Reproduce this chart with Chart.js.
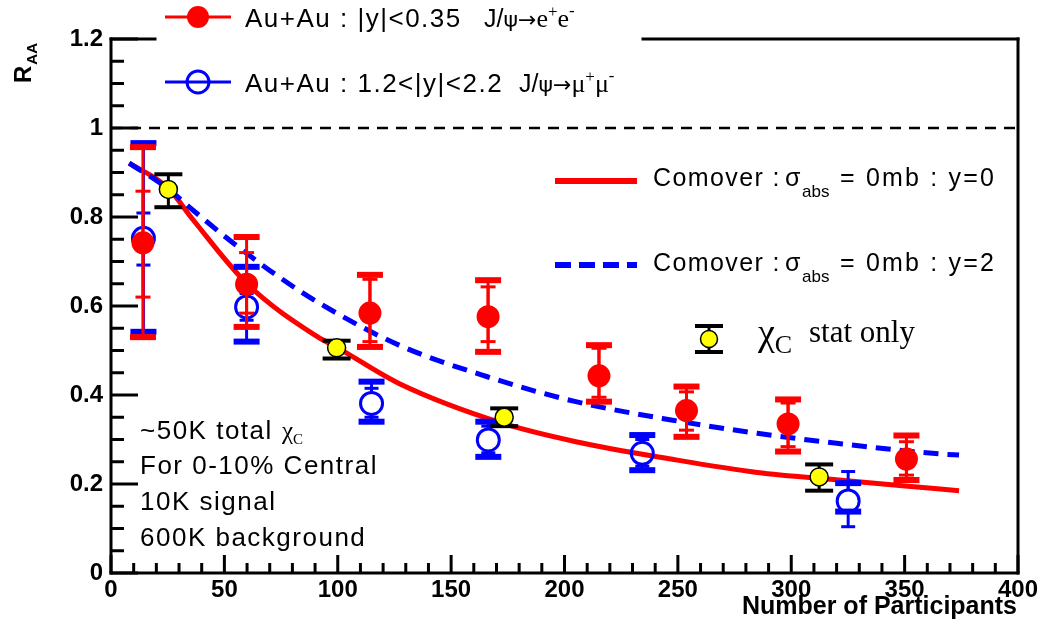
<!DOCTYPE html>
<html>
<head>
<meta charset="utf-8">
<script src="https://cdn.jsdelivr.net/npm/chart.js@4.4.1/dist/chart.umd.min.js"></script>
<style>
html, body { margin: 0; padding: 0; background: #fff; }
#wrap { width: 1042px; height: 632px; }
</style>
</head>
<body>
<div id="wrap"><canvas id="raaChart" width="1042" height="632"></canvas></div>
<script>
// J/psi -> e+e-, |y|<0.35
const npartMid = [14.1, 59.8, 114.2, 166.3, 215.2, 253.8, 298.6, 350.8]
const raaMid = [0.742, 0.649, 0.584, 0.576, 0.443, 0.365, 0.335, 0.256]
const statLoMid = [0.62, 0.584, 0.52, 0.52, 0.395, 0.321, 0.284, 0.22]
const statHiMid = [0.858, 0.72, 0.66, 0.643, 0.505, 0.407, 0.382, 0.295]
const sysLoMid = [0.53, 0.553, 0.508, 0.497, 0.385, 0.306, 0.273, 0.209]
const sysHiMid = [0.957, 0.755, 0.67, 0.658, 0.512, 0.419, 0.39, 0.309]

// J/psi -> mu+mu-, 1.2<|y|<2.2
const npartFwd = [14.3, 59.8, 114.9, 166.4, 234.3, 325.1]
const raaFwd = [0.752, 0.598, 0.381, 0.299, 0.269, 0.162]
const statLoFwd = [0.692, 0.568, 0.35, 0.27, 0.24, 0.104]
const statHiFwd = [0.809, 0.628, 0.415, 0.33, 0.30, 0.228]
const sysLoFwd = [0.542, 0.52, 0.34, 0.261, 0.231, 0.138]
const sysHiFwd = [0.966, 0.688, 0.43, 0.34, 0.31, 0.202]

// chi_C projection, stat only
const npartChi = [25.3, 99.5, 173.4, 312.3]
const raaChi = [0.862, 0.506, 0.35, 0.216]
const errLoChi = [0.822, 0.482, 0.33, 0.185]
const errHiChi = [0.896, 0.522, 0.37, 0.244]

// comover model, sigma_abs = 0 mb
const comoverNpartY0 = [8, 25, 36, 60, 91, 100, 127, 173, 205, 247, 285, 321, 349, 374]
const comoverRaaY0 = [0.921, 0.866, 0.795, 0.65, 0.531, 0.506, 0.426, 0.336, 0.295, 0.256, 0.226, 0.209, 0.196, 0.185]
const comoverNpartY2 = [8, 25, 36, 54, 75, 92, 127, 166, 205, 247, 285, 321, 367, 374]
const comoverRaaY2 = [0.921, 0.864, 0.816, 0.741, 0.662, 0.606, 0.512, 0.441, 0.385, 0.344, 0.314, 0.291, 0.267, 0.265]

const xTicks = [0, 50, 100, 150, 200, 250, 300, 350, 400]
const xTickLabels = ['0', '50', '100', '150', '200', '250', '300', '350', '400']
const yTicks = [0, 0.2, 0.4, 0.6, 0.8, 1, 1.2]
const yTickLabels = ['0', '0.2', '0.4', '0.6', '0.8', '1', '1.2']

const SANS = 'Liberation Sans, Arial, sans-serif'
const SERIF = 'Liberation Serif, Times New Roman, serif'
const SYM = 'DejaVu Sans, sans-serif'

const pts = (xs, ys) => xs.map((x, i) => ({ x: x, y: ys[i] }))

function line(ctx, x1, y1, x2, y2) {
    ctx.beginPath()
    ctx.moveTo(x1, y1)
    ctx.lineTo(x2, y2)
    ctx.stroke()
}

// vertical bar with caps, skipping the marker itself
function errBar(ctx, px, py, pLo, pHi, gap, color, lw, capW, capT) {
    ctx.strokeStyle = color
    ctx.fillStyle = color
    ctx.lineWidth = lw
    if (pHi < py - gap) line(ctx, px, py - gap, px, pHi)
    if (pLo > py + gap) line(ctx, px, py + gap, px, pLo)
    ctx.fillRect(px - capW / 2, pHi - capT / 2, capW, capT)
    ctx.fillRect(px - capW / 2, pLo - capT / 2, capW, capT)
}

function rich(ctx, x, y, parts) {
    let cx = x
    parts.forEach(p => {
        if (p.x !== undefined) cx = p.x
        ctx.font = p.f
        ctx.letterSpacing = p.ls || '0px'
        ctx.fillText(p.t, cx, y + (p.dy || 0))
        cx += ctx.measureText(p.t).width
    })
    ctx.letterSpacing = '0px'
}

const errorBars = {
    id: 'errorBars',
    beforeDatasetDraw(chart, args) {
        const ds = chart.data.datasets[args.index]
        if (!ds.bars) return
        const ctx = chart.ctx
        const xs = chart.scales.x, ys = chart.scales.y
        const b = ds.bars
        ctx.save()
        ds.data.forEach((p, i) => {
            const px = xs.getPixelForValue(p.x)
            const py = ys.getPixelForValue(p.y)
            if (b.sysLo) errBar(ctx, px, py, ys.getPixelForValue(b.sysLo[i]), ys.getPixelForValue(b.sysHi[i]), b.gap, b.color, 3, 26, 6)
            errBar(ctx, px, py, ys.getPixelForValue(b.lo[i]), ys.getPixelForValue(b.hi[i]), b.gap, b.color, 3, b.capW, b.capT)
        })
        ctx.restore()
    }
}

const frame = {
    id: 'frame',
    afterDraw(chart) {
        const ctx = chart.ctx
        const a = chart.chartArea
        const xs = chart.scales.x, ys = chart.scales.y
        ctx.save()
        ctx.strokeStyle = '#000'
        ctx.fillStyle = '#000'
        ctx.lineWidth = 3
        ctx.lineCap = 'square'

        // box, with the top edge interrupted by the upper legend
        line(ctx, a.left, a.top, a.left, a.bottom)
        line(ctx, a.left, a.bottom, a.right, a.bottom)
        line(ctx, a.right, a.top, a.right, a.bottom)
        line(ctx, a.left, a.top, 155, a.top)
        line(ctx, 643, a.top, a.right, a.top)
        ctx.lineCap = 'butt'

        // ticks pointing inwards
        for (let v = 0; v <= 400; v += 10) {
            const px = xs.getPixelForValue(v)
            line(ctx, px, a.bottom, px, a.bottom - (v % 50 === 0 ? 18 : 10))
        }
        for (let k = 0; k <= 24; k++) {
            const py = ys.getPixelForValue(k * 0.05)
            line(ctx, a.left, py, a.left + (k % 4 === 0 ? 27 : 13), py)
        }

        // reference line at R_AA = 1
        ctx.lineWidth = 2.5
        ctx.setLineDash([11, 8])
        line(ctx, a.left, ys.getPixelForValue(1), a.right, ys.getPixelForValue(1))
        ctx.setLineDash([])

        // tick labels
        ctx.font = 'bold 24px ' + SANS
        ctx.textAlign = 'center'
        ctx.textBaseline = 'alphabetic'
        xTicks.forEach((v, i) => ctx.fillText(xTickLabels[i], xs.getPixelForValue(v), 597))
        ctx.textAlign = 'right'
        ctx.textBaseline = 'middle'
        yTicks.forEach((v, i) => ctx.fillText(yTickLabels[i], 103, ys.getPixelForValue(v)))

        // axis titles
        ctx.textAlign = 'right'
        ctx.textBaseline = 'alphabetic'
        ctx.font = 'bold 25px ' + SANS
        ctx.fillText('Number of Participants', 1017, 614)
        ctx.save()
        ctx.translate(31, 83)
        ctx.rotate(-Math.PI / 2)
        ctx.textAlign = 'left'
        ctx.font = 'bold 24px ' + SANS
        ctx.fillText('R', 0, 0)
        const rw = ctx.measureText('R').width
        ctx.font = 'bold 15px ' + SANS
        ctx.fillText('AA', rw + 1, 6)
        ctx.restore()

        ctx.textAlign = 'left'
        ctx.textBaseline = 'alphabetic'

        // upper legend
        ctx.lineWidth = 3
        ctx.strokeStyle = '#ff0000'
        line(ctx, 165, 17, 231, 17)
        ctx.fillStyle = '#ff0000'
        ctx.beginPath(); ctx.arc(198, 17, 11, 0, Math.PI * 2); ctx.fill()
        ctx.strokeStyle = '#0000ff'
        line(ctx, 165, 82, 231, 82)
        ctx.beginPath(); ctx.arc(198, 82, 11, 0, Math.PI * 2); ctx.stroke()

        ctx.fillStyle = '#000'
        const big = '26px ' + SANS
        const mid = '26px ' + SERIF
        const sym = '22px ' + SYM
        const sup = '17px ' + SERIF
        rich(ctx, 245, 27, [
            { t: 'Au+Au : |y|<0.35', f: big, ls: '1.5px' },
            { t: 'J/', f: '25px ' + SANS, x: 484 },
            { t: 'ψ→', f: sym },
            { t: 'e', f: mid },
            { t: '+', f: sup, dy: -10 },
            { t: 'e', f: mid },
            { t: '-', f: sup, dy: -11 }
        ])
        rich(ctx, 245, 92, [
            { t: 'Au+Au : 1.2<|y|<2.2', f: big, ls: '1.5px' },
            { t: 'J/', f: '25px ' + SANS, x: 519 },
            { t: 'ψ→', f: sym },
            { t: 'μ', f: mid },
            { t: '+', f: sup, dy: -10 },
            { t: 'μ', f: mid },
            { t: '-', f: sup, dy: -11 }
        ])

        // model legend
        ctx.lineWidth = 6
        ctx.strokeStyle = '#ff0000'
        line(ctx, 555, 181, 637, 181)
        ctx.strokeStyle = '#0000ff'
        ctx.setLineDash([16, 8])
        line(ctx, 555, 265, 637, 265)
        ctx.setLineDash([])
        const med = '25px ' + SANS
        ;[[186, '0'], [271, '2']].forEach(r => {
            rich(ctx, 653, r[0], [
                { t: 'Comover :', f: med, ls: '1.4px' },
                { t: 'σ', f: med, x: 785 },
                { t: 'abs', f: '17px ' + SANS, dy: 11, x: 802 },
                { t: '= 0mb : y=' + r[1], f: med, ls: '2.2px', x: 840 }
            ])
        })

        // chi_C legend marker
        errBar(ctx, 709, 339, 352, 326, 8, '#000', 3, 28, 4)
        ctx.fillStyle = '#ffff00'
        ctx.strokeStyle = '#000'
        ctx.lineWidth = 1.5
        ctx.beginPath(); ctx.arc(709, 339, 8.5, 0, Math.PI * 2); ctx.fill(); ctx.stroke()
        ctx.fillStyle = '#000'
        rich(ctx, 758, 345, [
            { t: 'χ', f: '38px ' + SERIF },
            { t: 'C', f: '26px ' + SERIF, dy: 8 },
            { t: 'stat only', f: '31px ' + SERIF, x: 809, dy: -3 }
        ])

        // run statistics
        const note = '26px ' + SANS
        rich(ctx, 140, 439, [
            { t: '~50K total ', f: note, ls: '1.5px' },
            { t: 'χ', f: '25px ' + SERIF, x: 282 },
            { t: 'C', f: '15px ' + SERIF, dy: 5 }
        ])
        rich(ctx, 140, 474, [{ t: 'For 0-10% Central', f: note, ls: '1.5px' }])
        rich(ctx, 140, 510, [{ t: '10K signal', f: note, ls: '1.5px' }])
        rich(ctx, 140, 546, [{ t: '600K background', f: note, ls: '1.5px' }])
        ctx.restore()
    }
}

new Chart(document.getElementById('raaChart'), {
    type: 'scatter',
    data: {
        datasets: [
            {
                label: 'Comover y=0',
                type: 'line',
                data: pts(comoverNpartY0, comoverRaaY0),
                borderColor: '#ff0000',
                borderWidth: 5,
                pointRadius: 0,
                cubicInterpolationMode: 'monotone',
                order: 10
            },
            {
                label: 'Comover y=2',
                type: 'line',
                data: pts(comoverNpartY2, comoverRaaY2),
                borderColor: '#0000ff',
                borderWidth: 5,
                borderDash: [15, 9],
                pointRadius: 0,
                cubicInterpolationMode: 'monotone',
                order: 9
            },
            {
                label: 'Au+Au 1.2<|y|<2.2',
                data: pts(npartFwd, raaFwd),
                pointRadius: 11,
                pointBorderWidth: 3,
                pointBorderColor: '#0000ff',
                pointBackgroundColor: 'rgba(0,0,0,0)',
                bars: { lo: statLoFwd, hi: statHiFwd, sysLo: sysLoFwd, sysHi: sysHiFwd, gap: 12, color: '#0000ff', capW: 14, capT: 3 },
                order: 3
            },
            {
                label: 'Au+Au |y|<0.35',
                data: pts(npartMid, raaMid),
                pointRadius: 11.5,
                pointBorderWidth: 0,
                pointBackgroundColor: '#ff0000',
                bars: { lo: statLoMid, hi: statHiMid, sysLo: sysLoMid, sysHi: sysHiMid, gap: 10, color: '#ff0000', capW: 15, capT: 3 },
                order: 2
            },
            {
                label: 'chi_C',
                data: pts(npartChi, raaChi),
                pointRadius: 9,
                pointBorderWidth: 1.5,
                pointBorderColor: '#000',
                pointBackgroundColor: '#ffff00',
                bars: { lo: errLoChi, hi: errHiChi, gap: 8, color: '#000', capW: 28, capT: 4 },
                order: 1
            }
        ]
    },
    options: {
        responsive: false,
        animation: false,
        devicePixelRatio: 1,
        layout: { padding: { left: 111, right: 24, top: 39, bottom: 59 } },
        scales: {
            x: { type: 'linear', min: 0, max: 400, display: false },
            y: { type: 'linear', min: 0, max: 1.2, display: false }
        },
        plugins: {
            legend: { display: false },
            tooltip: { enabled: false }
        }
    },
    plugins: [errorBars, frame]
})
</script>
</body>
</html>
